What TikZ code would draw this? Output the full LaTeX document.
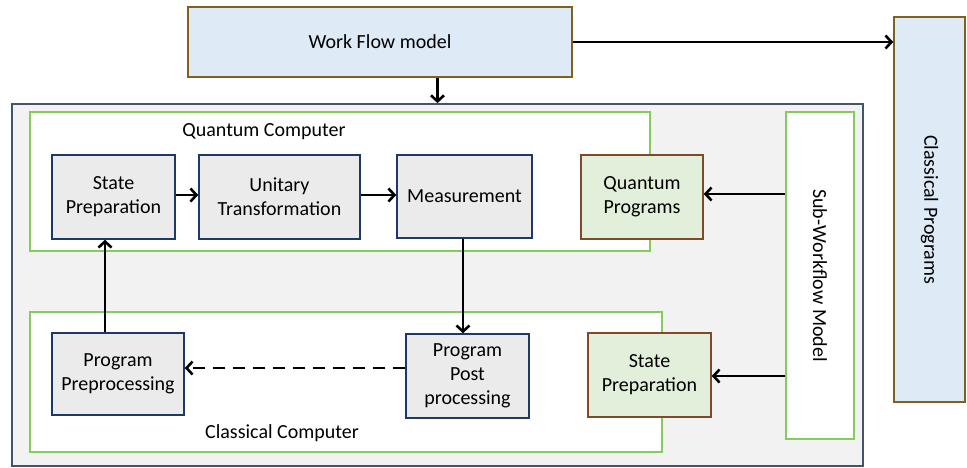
\documentclass[tikz,border=0pt]{standalone}
\usepackage{fontspec}
\setmainfont{Carlito}
\usetikzlibrary{arrows.meta}
\definecolor{outerfill}{HTML}{F2F2F2}
\definecolor{outerdraw}{HTML}{44546A}
\definecolor{grn}{HTML}{86CB5E}
\definecolor{grayfill}{HTML}{EBEBEB}
\definecolor{navy}{HTML}{203864}
\definecolor{lgreen}{HTML}{E2EFDA}
\definecolor{brown}{HTML}{7F4A2A}
\definecolor{lblue}{HTML}{DEEAF6}
\definecolor{olive}{HTML}{7F6020}
\tikzset{
  txt/.style={font=\fontsize{20}{24}\selectfont, align=center},
  gbox/.style={draw=navy, fill=grayfill, line width=1.5pt, inner sep=0pt, txt},
  pbox/.style={draw=brown, fill=lgreen, line width=1.5pt, inner sep=0pt, txt},
  bbox/.style={draw=olive, fill=lblue, line width=1.5pt, inner sep=0pt, txt},
  grframe/.style={draw=grn, fill=white, line width=1.5pt, inner sep=0pt},
  arr/.style={line width=2.6pt, -{Straight Barb[length=6pt,width=13pt,line width=2.6pt]}},
}
\begin{document}
\begin{tikzpicture}[x=1pt,y=-1pt]
\useasboundingbox (0,0) rectangle (967,467);
% outer container
\node[draw=outerdraw, fill=outerfill, line width=1.8pt, minimum width=851pt, minimum height=362pt, inner sep=0pt] (outer) at (437.5,285) {};
% top boxes
\node[bbox, minimum width=384pt, minimum height=70pt] (wf) at (380,42) {Work Flow model};
\node[bbox, minimum width=71pt, minimum height=385pt] (cp) at (929.5,209.5) {\rotatebox{-90}{Classical Programs}};
% green frames
\node[grframe, minimum width=620pt, minimum height=139pt] (qc) at (340,181.5) {};
\node[grframe, minimum width=632pt, minimum height=140pt] (cc) at (346,382) {};
\node[grframe, minimum width=68pt, minimum height=327pt, txt] (sw) at (820,275.5) {\rotatebox{-90}{Sub-Workflow Model}};
\node[txt, anchor=center] (qcl) at (264,132) {Quantum Computer};
\node[txt, anchor=center] (ccl) at (282,433) {Classical Computer};
% quantum row
\node[gbox, minimum width=123pt, minimum height=84pt] (sp) at (113.5,197) {State\\Preparation};
\node[gbox, minimum width=161pt, minimum height=84pt] (ut) at (279.5,197) {Unitary\\Transformation};
\node[gbox, minimum width=135pt, minimum height=83pt] (ms) at (464.5,196.5) {Measurement};
\node[pbox, minimum width=122pt, minimum height=84pt] (qp) at (642,197) {Quantum\\Programs};
% classical row
\node[gbox, minimum width=132pt, minimum height=82pt] (pre) at (118,374) {Program\\Preprocessing};
\node[gbox, minimum width=123pt, minimum height=84pt] (post) at (467.5,376) {Program\\Post\\processing};
\node[pbox, minimum width=123pt, minimum height=84pt] (sp2) at (649.5,375) {State\\Preparation};
% connectors
\draw[arr] (wf.east) -- (cp.west |- wf.east);
\draw[arr] (wf.south -| outer.north) -- (outer.north);
\draw[arr] (sp.east |- 0,195) -- (ut.west |- 0,195);
\draw[arr] (ut.east |- 0,195) -- (ms.west |- 0,195);
\draw[arr] (ms.south -| 463,0) -- (post.north -| 463,0);
\draw[arr] (pre.north -| 105,0) -- (sp.south -| 105,0);
\draw[arr, dash pattern=on 12pt off 8pt] (post.west |- 0,368) -- (pre.east |- 0,368);
\draw[arr] (sw.west |- 0,194) -- (qp.east |- 0,194);
\draw[arr] (sw.west |- 0,376) -- (sp2.east |- 0,376);
\end{tikzpicture}
\end{document}
